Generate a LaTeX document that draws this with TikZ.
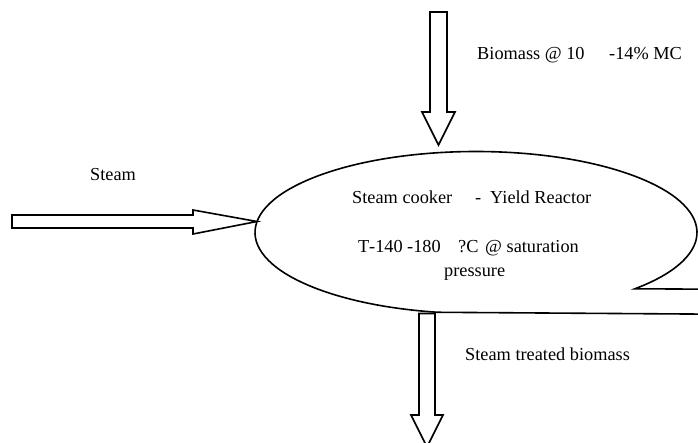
\documentclass[tikz,border=0pt]{standalone}
\usepackage{fontspec}
\setmainfont{Liberation Serif}
\begin{document}
\begin{tikzpicture}[x=1pt,y=-1pt,
  outline/.style={draw=black,line width=1.6pt,line join=miter,fill=white},
  txt/.style={anchor=base west,inner sep=0pt,font=\fontsize{18.3}{22}\selectfont}]
\useasboundingbox (0,0) rectangle (698,442);
\begin{scope}
\clip (0,0) rectangle (698,442);
% reactor: elliptical callout whose pointer runs off to the right
\coordinate (reactor) at (476,232.5);
\path (reactor) ++(44:221 and 81) coordinate (ptrA);
\coordinate (ptrLow) at (760,314.5);
\coordinate (ptrHigh) at (760,289.5);
\draw[outline] (ptrA) arc[start angle=44,end angle=-260,x radius=221,y radius=81] -- (ptrLow) -- (ptrHigh) -- cycle;

% biomass feed, from the top
\coordinate (feedTip) at (438.5,145);
\draw[outline] (430,12) -- (447,12) -- (447,112) -- (455,112) -- (feedTip) -- (422,112) -- (430,112) -- cycle;

% steam feed, from the left
\coordinate (steamTip) at (257,221.5);
\draw[outline] (12,215) -- (193,215) -- (193,210) -- (steamTip) -- (193,234) -- (193,228) -- (12,228) -- cycle;

% treated product, downward
\coordinate (prodTip) at (427,447);
\draw[outline] (419,313.5) -- (435,313.5) -- (435,415) -- (443,415) -- (prodTip) -- (411,415) -- (419,415) -- cycle;
\end{scope}

% labels
\node[txt] (lblSteam) at (90,180) {Steam};
\node[txt] (lblBio) at (477,59) {Biomass @ 10};
\node[txt] (lblMC) at (609,59) {-14\% MC};
\node[txt] (lblCooker) at (352,203) {Steam cooker};
\node[txt] (lblDash) at (475,203) {-};
\node[txt] (lblYield) at (490,203) {Yield Reactor};
\node[txt] (lblT) at (358,252) {T};
\node[txt] (lblLo) at (369,252) {-140};
\node[txt] (lblHi) at (407,252) {-180};
\node[txt] (lblDeg) at (458,252) {?C};
\node[txt] (lblSat) at (485,252) {@ saturation};
\node[txt] (lblPress) at (444,276) {pressure};
\node[txt] (lblOut) at (465,360) {Steam treated biomass};
\end{tikzpicture}
\end{document}
